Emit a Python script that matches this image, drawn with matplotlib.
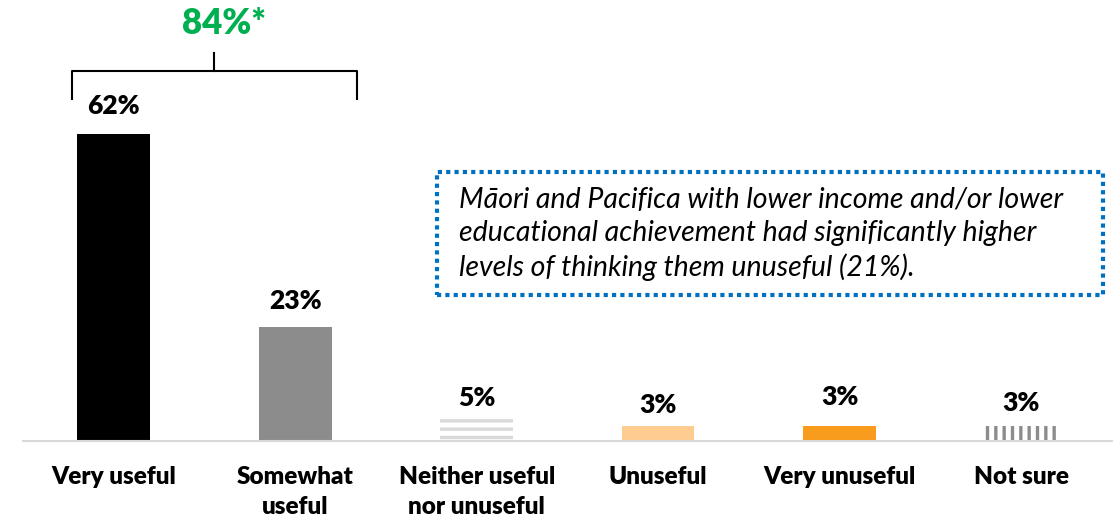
import numpy as np
import matplotlib.pyplot as plt
from matplotlib.patches import Rectangle

plt.rcParams['font.family'] = ['Lato', 'DejaVu Sans']
plt.rcParams['hatch.linewidth'] = 2.4

categories = ['Very useful', 'Somewhat\nuseful', 'Neither useful\nnor unuseful',
              'Unuseful', 'Very unuseful', 'Not sure']
values = [62, 23, 5, 3, 3, 3]
value_labels = ['62%', '23%', '5%', '3%', '3%', '3%']
net_label = '84%*'
note = ('Māori and Pacifica with lower income and/or lower\n'
        'educational achievement had significantly higher\n'
        'levels of thinking them unuseful (21%).')

face = ['#000000', '#8c8c8c', 'white', '#ffcc8f', '#f99b1c', 'white']
hatch_col = ['#000000', '#8c8c8c', '#d9d9d9', '#ffcc8f', '#f99b1c', '#8c8c8c']
hatches = [None, None, '--', None, None, '||']
label_off = [20, 19, 13, 15, 21, 17]  # points above bar top

fig = plt.figure(figsize=(11.19, 5.2), dpi=100)
ax = fig.add_axes([0.0206, 0.152, 0.973, 0.666])
x = np.arange(len(categories))
bars = ax.bar(x, values, width=0.4, color=face, edgecolor=hatch_col, linewidth=0)
for b, h in zip(bars, hatches):
    if h:
        b.set_hatch(h)

ax.set_xlim(-0.5, len(categories) - 0.5)
ax.set_ylim(0, 70)
ax.set_yticks([])
for s in ['top', 'right', 'left']:
    ax.spines[s].set_visible(False)
ax.spines['bottom'].set_color('#d9d9d9')
ax.spines['bottom'].set_linewidth(1.5)
ax.set_xticks(x)
ax.set_xticklabels(categories, fontsize=17.5, fontweight='heavy', linespacing=1.42)
ax.tick_params(axis='x', length=0, pad=18)

for xi, v, lab, off in zip(x, values, value_labels, label_off):
    ax.annotate(lab, (xi, v), xytext=(0, off), textcoords='offset points',
                ha='center', va='center', fontsize=19, fontweight='heavy')

# bracket over first two bars
bl, br = x[0] - 0.23, x[1] + 0.34
ytop, ybot = 74.8, 69.2
ax.plot([bl, bl, br, br], [ybot, ytop, ytop, ybot], color='black', lw=1.5, clip_on=False)
mid = (bl + br) / 2
ax.plot([mid, mid], [ytop, ytop + 3.6], color='black', lw=1.5, clip_on=False)
ax.text(mid + 0.05, ytop + 9.5, net_label, ha='center', va='center', fontsize=25,
        fontweight='heavy', color='#00b050', clip_on=False)

# note box
fig.patches.append(Rectangle((437 / 1119, 1 - 295 / 520), 666 / 1119, 123 / 520,
                             transform=fig.transFigure, fill=False, edgecolor='#0070c0',
                             linestyle=(0, (1, 1)), linewidth=3))
fig.text(459 / 1119, 1 - 234 / 520, note, ha='left', va='center', fontsize=20.5,
         style='italic', linespacing=1.34)

fig.savefig('out.png', dpi=100)
